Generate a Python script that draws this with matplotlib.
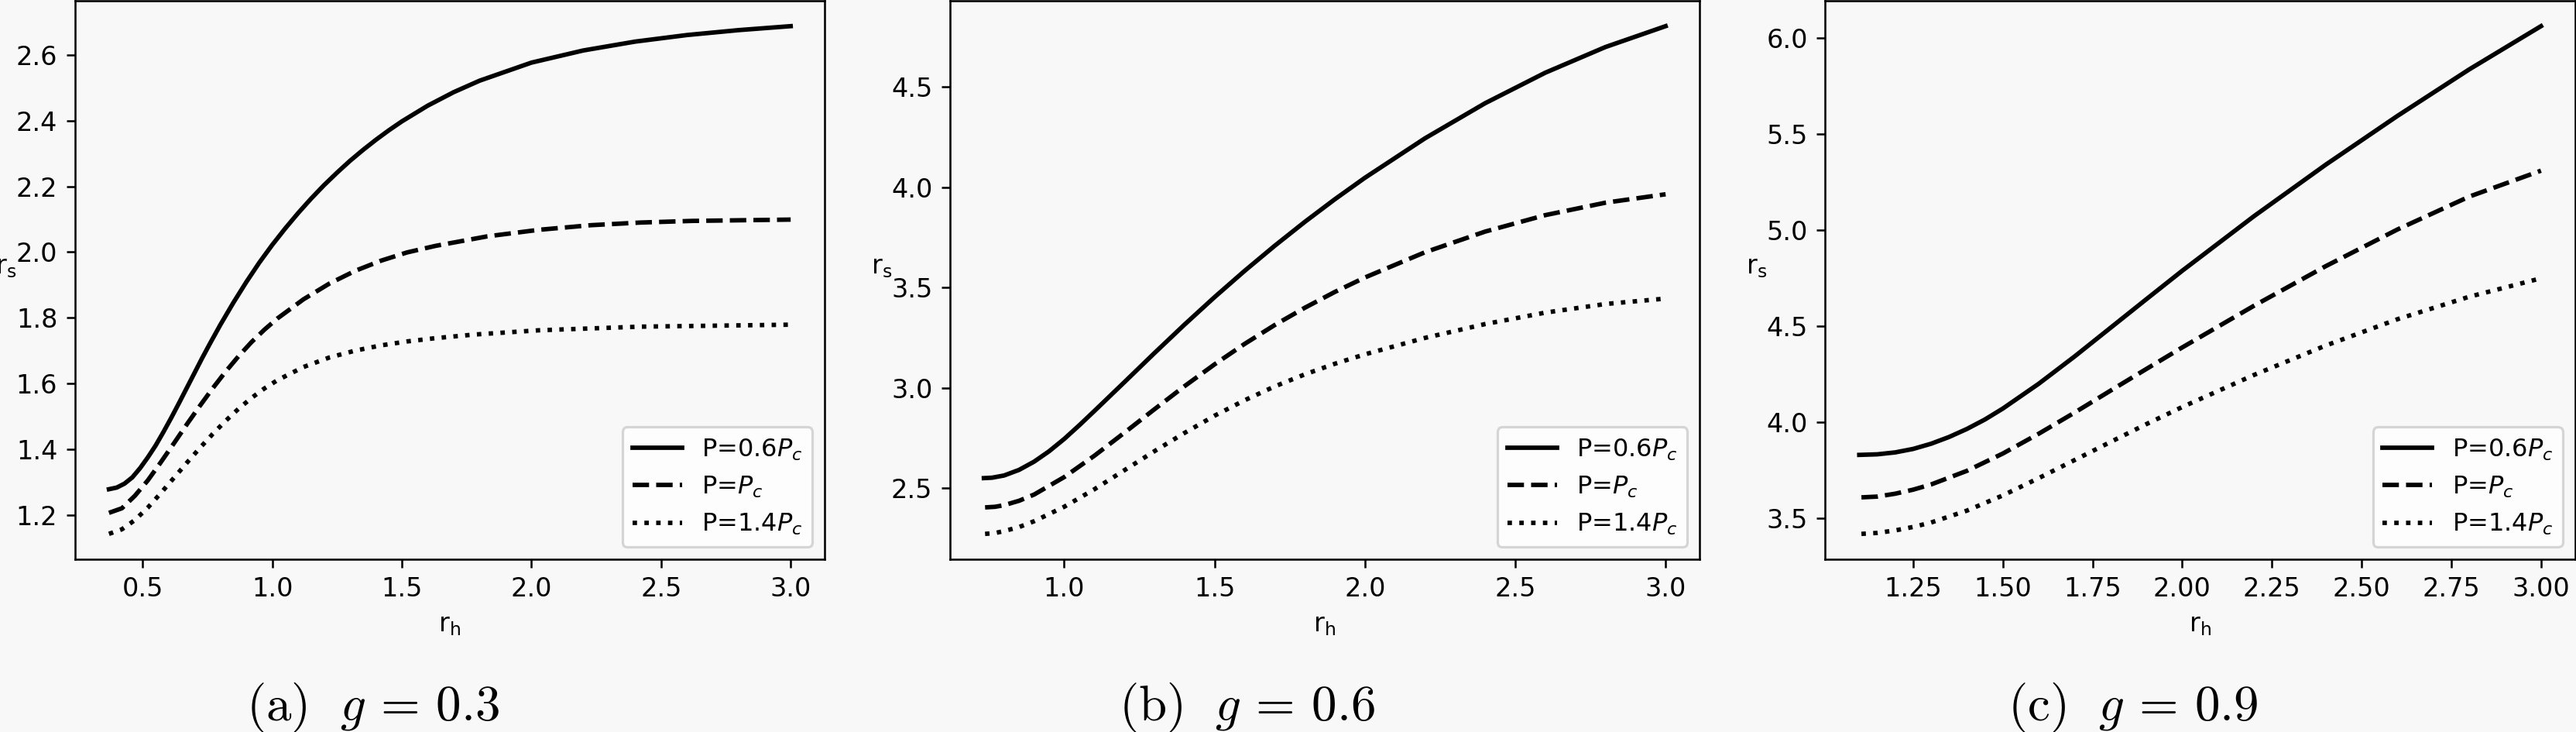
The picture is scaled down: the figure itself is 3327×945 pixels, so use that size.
import matplotlib
matplotlib.use("Agg")
import matplotlib.pyplot as plt

# ---------------- data ----------------
# panel (a): g = 0.3
a_x_solid = [0.37, 0.40, 0.43, 0.46, 0.49, 0.52, 0.55, 0.58, 0.61, 0.64, 0.67, 0.70, 0.73, 0.76, 0.80,
             0.85, 0.90, 0.95, 1.00, 1.05, 1.10, 1.15, 1.20, 1.25, 1.30, 1.35, 1.40, 1.45, 1.50, 1.60,
             1.70, 1.80, 2.00, 2.20, 2.40, 2.60, 2.80, 3.00]
a_y_solid = [1.278, 1.283, 1.295, 1.314, 1.342, 1.375, 1.411, 1.452, 1.495, 1.540, 1.586, 1.632, 1.678,
             1.722, 1.779, 1.846, 1.909, 1.968, 2.022, 2.072, 2.119, 2.163, 2.204, 2.242, 2.278, 2.311,
             2.342, 2.371, 2.398, 2.446, 2.487, 2.522, 2.577, 2.614, 2.641, 2.661, 2.676, 2.688]
a_x_dash = [0.37, 0.42, 0.47, 0.52, 0.57, 0.62, 0.67, 0.72, 0.77, 0.82, 0.87, 0.92, 0.97, 1.02, 1.12,
            1.22, 1.32, 1.42, 1.52, 1.63, 1.83, 2.03, 2.23, 2.42, 2.62, 3.0]
a_y_dash = [1.206, 1.220, 1.258, 1.305, 1.360, 1.417, 1.475, 1.531, 1.585, 1.636, 1.683, 1.726, 1.764,
            1.798, 1.856, 1.904, 1.943, 1.974, 1.999, 2.019, 2.048, 2.068, 2.082, 2.090, 2.095, 2.099]
a_x_dot = [0.37, 0.42, 0.47, 0.52, 0.57, 0.62, 0.67, 0.72, 0.77, 0.82, 0.87, 0.92, 0.97, 1.02, 1.12,
           1.22, 1.32, 1.42, 1.52, 1.63, 1.78, 2.03, 2.42, 3.0]
a_y_dot = [1.142, 1.156, 1.184, 1.222, 1.266, 1.312, 1.358, 1.403, 1.446, 1.486, 1.523, 1.556, 1.585,
           1.610, 1.650, 1.679, 1.700, 1.716, 1.728, 1.738, 1.749, 1.762, 1.773, 1.779]

# panel (b): g = 0.6
b_x_solid = [0.733, 0.76, 0.80, 0.85, 0.90, 0.95, 1.00, 1.05, 1.10, 1.20, 1.30, 1.40, 1.50, 1.60,
             1.70, 1.80, 1.90, 2.00, 2.20, 2.40, 2.60, 2.80, 3.00]
b_y_solid = [2.551, 2.553, 2.564, 2.592, 2.633, 2.685, 2.746, 2.814, 2.885, 3.029, 3.174, 3.316, 3.453,
             3.584, 3.709, 3.828, 3.941, 4.048, 4.245, 4.420, 4.572, 4.700, 4.804]
b_x_dash = [0.737, 0.77, 0.80, 0.85, 0.90, 1.00, 1.10, 1.20, 1.30, 1.40, 1.50, 1.60, 1.70, 1.80, 1.90,
            2.00, 2.20, 2.40, 2.60, 2.80, 3.00]
b_y_dash = [2.405, 2.408, 2.416, 2.438, 2.469, 2.556, 2.662, 2.777, 2.894, 3.009, 3.118, 3.220, 3.314,
            3.400, 3.479, 3.551, 3.677, 3.780, 3.862, 3.924, 3.966]
b_x_dot = [0.737, 0.77, 0.80, 0.85, 0.90, 1.00, 1.10, 1.20, 1.30, 1.40, 1.50, 1.60, 1.70, 1.80, 1.90,
           2.00, 2.20, 2.40, 2.60, 2.80, 3.00]
b_y_dot = [2.273, 2.277, 2.287, 2.307, 2.336, 2.408, 2.495, 2.590, 2.685, 2.776, 2.862, 2.939, 3.008,
           3.068, 3.121, 3.168, 3.250, 3.319, 3.376, 3.419, 3.446]

# panel (c): g = 0.9
c_x_solid = [1.10, 1.15, 1.20, 1.25, 1.30, 1.35, 1.40, 1.45, 1.50, 1.60, 1.70, 1.80, 1.90, 2.00,
             2.20, 2.40, 2.60, 2.80, 3.00]
c_y_solid = [3.831, 3.834, 3.844, 3.862, 3.889, 3.924, 3.966, 4.015, 4.072, 4.201, 4.343, 4.492, 4.641,
             4.789, 5.073, 5.341, 5.595, 5.837, 6.062]
c_x_dash = [1.106, 1.15, 1.20, 1.25, 1.30, 1.40, 1.50, 1.60, 1.70, 1.80, 1.90, 2.00, 2.20, 2.40, 2.60,
            2.80, 3.00]
c_y_dash = [3.610, 3.614, 3.629, 3.650, 3.677, 3.748, 3.838, 3.941, 4.051, 4.165, 4.278, 4.390, 4.607,
            4.813, 5.004, 5.175, 5.310]
c_x_dot = [1.106, 1.15, 1.20, 1.25, 1.30, 1.40, 1.50, 1.60, 1.70, 1.80, 1.90, 2.00, 2.20, 2.40, 2.60,
           2.80, 3.00]
c_y_dot = [3.420, 3.425, 3.438, 3.456, 3.479, 3.541, 3.620, 3.710, 3.804, 3.898, 3.991, 4.080, 4.247,
           4.400, 4.537, 4.654, 4.750]

series_labels = ["P=0.6$P_c$", "P=$P_c$", "P=1.4$P_c$"]
captions = [r"$\mathrm{(a)}\ \ g\,=\,0.3$", r"$\mathrm{(b)}\ \ g\,=\,0.6$", r"$\mathrm{(c)}\ \ g\,=\,0.9$"]

panels = [
    [(a_x_solid, a_y_solid), (a_x_dash, a_y_dash), (a_x_dot, a_y_dot)],
    [(b_x_solid, b_y_solid), (b_x_dash, b_y_dash), (b_x_dot, b_y_dot)],
    [(c_x_solid, c_y_solid), (c_x_dash, c_y_dash), (c_x_dot, c_y_dot)],
]
xticks = [
    [0.5, 1.0, 1.5, 2.0, 2.5, 3.0],
    [1.0, 1.5, 2.0, 2.5, 3.0],
    [1.25, 1.50, 1.75, 2.00, 2.25, 2.50, 2.75, 3.00],
]

# ---------------- figure ----------------
W, H, DPI = 3327, 945, 230
bg = "#f8f8f8"
fig = plt.figure(figsize=(W / DPI, H / DPI), dpi=DPI, facecolor=bg)

ax_lefts = [96.7, 1226.7, 2357.3]
ax_w = 968.5
ax_top, ax_bot = 1.0, 722.0
cap_centers = [482, 1610, 2755]
styles = ["-", "--", ":"]

for i, (left, data) in enumerate(zip(ax_lefts, panels)):
    ax = fig.add_axes([left / W, (H - ax_bot) / H, ax_w / W, (ax_bot - ax_top) / H])
    ax.set_facecolor(bg)
    for (xs, ys), ls, lab in zip(data, styles, series_labels):
        ax.plot(xs, ys, color="black", linestyle=ls, linewidth=1.8, label=lab)
    ax.set_xticks(xticks[i])
    ax.tick_params(labelsize=10.5)
    ax.set_xlabel(r"$\mathrm{r_h}$", fontsize=10.5)
    ax.set_ylabel(r"$\mathrm{r_s}$", rotation=0, fontsize=10.5)
    ax.legend(loc="lower right")
    fig.text(cap_centers[i] / W, (H - 930) / H, captions[i], ha="center", va="baseline",
             fontsize=20.4, math_fontfamily="cm")

fig.savefig("out.png", dpi=DPI, facecolor=bg)
